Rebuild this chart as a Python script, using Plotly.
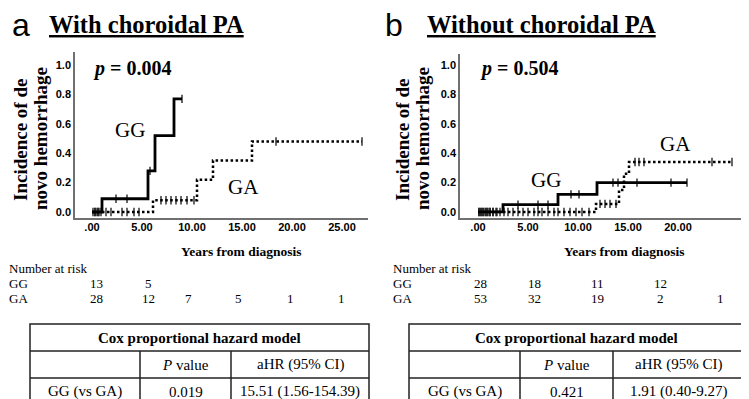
import numpy as np
import plotly.graph_objects as go

W, H = 749, 399
SERIF = "Liberation Serif"
SANS = "Liberation Sans"

# ---------------- data ----------------
# Panel a: with choroidal PA
a_gg_event_t = [0.0, 1.0, 5.6, 6.3, 8.2]
a_gg_event_y = [0.0, 0.09, 0.28, 0.52, 0.77]
a_gg_censor_t = [0.1, 0.3, 0.5, 0.7, 0.9, 2.4, 3.5, 5.8, 9.0]
a_ga_event_t = [0.0, 6.1, 10.5, 12.1, 16.0]
a_ga_event_y = [0.0, 0.08, 0.22, 0.35, 0.48]
a_ga_censor_t = [0.3, 0.6, 1.4, 1.9, 3.0, 3.5, 4.2, 4.7, 6.9, 7.4, 7.9, 8.4,
                 8.9, 9.5, 10.2, 18.4, 27.0]

# Panel b: without choroidal PA
b_gg_event_t = [0.0, 2.5, 8.0, 11.9]
b_gg_event_y = [0.0, 0.05, 0.12, 0.20]
b_gg_censor_t = [0.1, 0.3, 0.5, 0.7, 0.9, 1.2, 1.5, 1.9, 4.0, 6.0, 7.0, 9.3,
                 10.1, 13.5, 14.0, 15.9, 19.3, 20.9]
b_ga_event_t = [0.0, 11.8, 14.1, 14.6, 15.1]
b_ga_event_y = [0.0, 0.055, 0.15, 0.26, 0.34]
b_ga_censor_t = [0.1, 0.3, 0.5, 0.8, 1.0, 1.2, 1.5, 1.8, 2.2, 2.6, 3.0, 3.5,
                 4.0, 4.5, 5.0, 5.6, 6.0, 6.4, 7.0, 7.6, 8.0, 8.6, 9.2, 9.8,
                 10.4, 11.1, 12.2, 12.7, 13.2, 13.8, 15.7, 16.1, 16.6, 23.4, 25.4]

x_tick_vals_a = [0, 5, 10, 15, 20, 25]
x_tick_vals_b = [0, 5, 10, 15, 20]
x_tick_text = [".00", "5.00", "10.00", "15.00", "20.00", "25.00"]
y_tick_vals = [0.0, 0.2, 0.4, 0.6, 0.8, 1.0]

p_values = ["0.004", "0.504"]
panel_letters = ["a", "b"]
panel_titles = ["With choroidal PA", "Without choroidal PA"]

risk_a_gg = [13, 5]
risk_a_ga = [28, 12, 7, 5, 1, 1]
risk_b_gg = [28, 18, 11, 12]
risk_b_ga = [53, 32, 19, 2, 1]

cox_header = "Cox proportional hazard model"
cox_cols = ["", "<i>P</i> value", "aHR (95% CI)"]
cox_a_row = ["GG (vs GA)", "0.019", "15.51 (1.56-154.39)"]
cox_b_row = ["GG (vs GA)", "0.421", "1.91 (0.40-9.27)"]

# ---------------- helpers ----------------
def px(x):
    return x / W

def py(y):
    return 1 - y / H

def ann(text, x, y, size, family=SERIF, xanchor="center", yanchor="middle",
        angle=0, color="black"):
    return dict(text=text, x=px(x), y=py(y), xref="paper", yref="paper",
                showarrow=False, font=dict(size=size, family=family, color=color),
                xanchor=xanchor, yanchor=yanchor, textangle=angle, borderpad=0)

def step_at(ev_t, ev_y, t):
    i = np.searchsorted(np.array(ev_t), t, side="right") - 1
    return ev_y[max(i, 0)]

def km_traces(ev_t, ev_y, cens, dash, xa, ya, width):
    end_t = max(cens)
    xs = list(ev_t) + [end_t]
    ys = list(ev_y) + [ev_y[-1]]
    line = go.Scatter(x=xs, y=ys, mode="lines", line_shape="hv",
                      line=dict(color="black", width=width, dash=dash),
                      xaxis=xa, yaxis=ya, showlegend=False, hoverinfo="skip")
    cy = [step_at(ev_t, ev_y, t) for t in cens]
    marks = go.Scatter(x=cens, y=cy, mode="markers",
                       marker=dict(symbol="line-ns-open", size=6, color="black",
                                   line=dict(color="black", width=1.2)),
                       xaxis=xa, yaxis=ya, showlegend=False, hoverinfo="skip")
    return [line, marks]

fig = go.Figure()
for tr in km_traces(a_gg_event_t, a_gg_event_y, a_gg_censor_t, "solid", "x", "y", 2.8):
    fig.add_trace(tr)
for tr in km_traces(a_ga_event_t, a_ga_event_y, a_ga_censor_t, "2.5px,2.5px", "x", "y", 2.5):
    fig.add_trace(tr)
for tr in km_traces(b_gg_event_t, b_gg_event_y, b_gg_censor_t, "solid", "x2", "y2", 2.8):
    fig.add_trace(tr)
for tr in km_traces(b_ga_event_t, b_ga_event_y, b_ga_censor_t, "2.5px,2.5px", "x2", "y2", 2.5):
    fig.add_trace(tr)

axis_line = dict(showline=True, linecolor="#707070", linewidth=1.5, showgrid=False,
                 zeroline=False, ticks="", mirror=False)
t_font = dict(family=SANS, size=11, color="black", weight="bold")

# panel geometry (pixels)
A = dict(x0=67, x1=360, y0=44, y1=210, xr=[-1.7, 27.6])
B = dict(x0=452, x1=740, y0=46, y1=210, xr=[-1.8, 27.0])

fig.update_layout(
    width=W, height=H, autosize=False,
    margin=dict(l=0, r=0, t=0, b=0),
    paper_bgcolor="white", plot_bgcolor="white",
    xaxis=dict(domain=[px(A["x0"]), px(A["x1"])], range=A["xr"], anchor="y",
               tickvals=x_tick_vals_a, ticktext=x_tick_text[:len(x_tick_vals_a)],
               tickfont=t_font, ticklabelstandoff=-2, **axis_line),
    yaxis=dict(domain=[py(A["y1"]), py(A["y0"])], range=[-0.041, 1.089], anchor="x",
               tickvals=y_tick_vals, tickformat=".1f", tickfont=t_font, **axis_line),
    xaxis2=dict(domain=[px(B["x0"]), px(B["x1"])], range=B["xr"], anchor="y2",
                tickvals=x_tick_vals_b, ticktext=x_tick_text[:len(x_tick_vals_b)],
                tickfont=t_font, ticklabelstandoff=-2, **axis_line),
    yaxis2=dict(domain=[py(B["y1"]), py(B["y0"])], range=[-0.041, 1.075], anchor="x2",
                tickvals=y_tick_vals, tickformat=".1f", tickfont=t_font, **axis_line),
)

annotations = []
shapes = []

panels = [
    dict(letter_x=13, title_x=40, p_x=84, yt1=12, yt2=32,
         gg=(122, 122), ga=(235, 179), xcenter=233,
         risk_gg=risk_a_gg, risk_ga=risk_a_ga,
         risk_cols=[88, 140, 180, 230, 282, 333], label_x=0,
         table=[22, 132, 223, 361], row=cox_a_row),
    dict(letter_x=386, title_x=418, p_x=471, yt1=394, yt2=414,
         gg=(538, 172), ga=(667, 136), xcenter=616,
         risk_gg=risk_b_gg, risk_ga=risk_b_ga,
         risk_cols=[472, 526, 589, 652, 712], label_x=384,
         table=[401, 512, 605, 736], row=cox_b_row),
]

title_size = 24.5
for i, P in enumerate(panels):
    # panel letter and title
    annotations.append(ann(panel_letters[i], P["letter_x"], 17, 32, family=SANS))
    annotations.append(ann("<b><u>" + panel_titles[i] + "</u></b>", P["title_x"], 17,
                           title_size, xanchor="left"))
    # p value
    annotations.append(ann("<b><i>p</i> = " + p_values[i] + "</b>", P["p_x"], 60, 20,
                           xanchor="left"))
    # y title, two tight lines
    annotations.append(ann("<b>Incidence of de</b>", P["yt1"], 132, 19, angle=-90))
    annotations.append(ann("<b>novo hemorrhage</b>", P["yt2"], 131, 19, angle=-90))
    # curve labels
    annotations.append(ann("GG", P["gg"][0], P["gg"][1], 21))
    annotations.append(ann("GA", P["ga"][0], P["ga"][1], 21))
    # x title
    annotations.append(ann("<b>Years from diagnosis</b>", P["xcenter"], 243, 13.5))
    # number at risk
    annotations.append(ann("Number at risk", P["label_x"], 260, 13, xanchor="left"))
    annotations.append(ann("GG", P["label_x"], 275, 13, xanchor="left"))
    annotations.append(ann("GA", P["label_x"], 290, 13, xanchor="left"))
    for j, v in enumerate(P["risk_gg"]):
        annotations.append(ann(str(v), P["risk_cols"][j], 275, 13))
    for j, v in enumerate(P["risk_ga"]):
        annotations.append(ann(str(v), P["risk_cols"][j], 290, 13))
    # Cox table
    tx = P["table"]
    ty = [316, 343, 370, 397]
    lw = dict(color="#222222", width=1.5)
    shapes.append(dict(type="rect", xref="paper", yref="paper",
                       x0=px(tx[0]), x1=px(tx[3]), y0=py(ty[3]), y1=py(ty[0]), line=lw))
    for yy in ty[1:3]:
        shapes.append(dict(type="line", xref="paper", yref="paper",
                           x0=px(tx[0]), x1=px(tx[3]), y0=py(yy), y1=py(yy), line=lw))
    for xx in tx[1:3]:
        shapes.append(dict(type="line", xref="paper", yref="paper",
                           x0=px(xx), x1=px(xx), y0=py(ty[1]), y1=py(ty[3]), line=lw))
    annotations.append(ann("<b>" + cox_header + "</b>", (tx[0] + tx[3]) / 2,
                           (ty[0] + ty[1]) / 2, 15))
    for c in range(3):
        cx = (tx[c] + tx[c + 1]) / 2
        if cox_cols[c]:
            annotations.append(ann(cox_cols[c], cx, (ty[1] + ty[2]) / 2, 15))
        annotations.append(ann(P["row"][c], cx, (ty[2] + ty[3]) / 2, 15))

fig.update_layout(annotations=annotations, shapes=shapes)
fig.write_html("out.html")
